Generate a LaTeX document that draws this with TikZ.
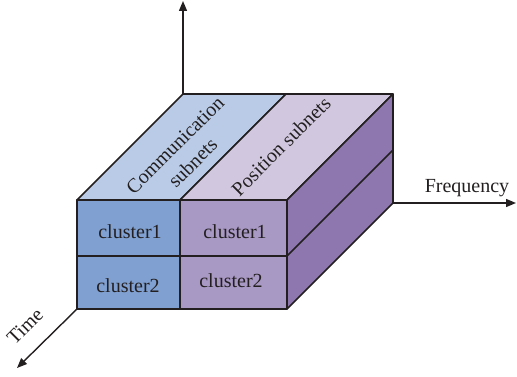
\documentclass[tikz,border=0pt]{standalone}
\usepackage{fontspec}
\setmainfont{Liberation Serif}
\usetikzlibrary{arrows.meta}
\definecolor{ink}{HTML}{231F20}
\definecolor{commfront}{HTML}{7FA0D0}
\definecolor{commtop}{HTML}{B9CBE6}
\definecolor{posfront}{HTML}{A898C4}
\definecolor{postop}{HTML}{D1C8DF}
\definecolor{posside}{HTML}{8E76AF}
\begin{document}
\begin{tikzpicture}[x=1pt,y=-1pt,
  face/.style={draw=ink, line width=1.6pt, line join=round},
  edge/.style={draw=ink, line width=1.6pt},
  axis/.style={draw=ink, line width=1.4pt, -{Triangle[length=10pt,width=8pt]}},
  lbl/.style={font=\fontsize{20}{25}\selectfont, text=ink, inner sep=0pt}]
\useasboundingbox (0,0) rectangle (517,377);
% box corners: front face, back top edge, back right edge
\coordinate (ftl) at (77,200);  \coordinate (ftm) at (180,200); \coordinate (ftr) at (287,200);
\coordinate (fml) at (77,256);  \coordinate (fmm) at (180,256); \coordinate (fmr) at (287,256);
\coordinate (fbl) at (77,309);  \coordinate (fbm) at (180,309); \coordinate (fbr) at (287,309);
\coordinate (btl) at (183,94);  \coordinate (btm) at (286,94);  \coordinate (btr) at (393,94);
\coordinate (bmr) at (393,150); \coordinate (bbr) at (393,203);
% axis ends
\coordinate (upend) at (183,1);
\coordinate (freqend) at (516,203);
\coordinate (timeend) at (17,368);

% axes
\draw[axis] (btl) -- (upend);
\draw[axis] (bbr) -- (freqend);
\draw[axis] (fbl) -- (timeend);

% top faces
\filldraw[face, fill=commtop] (ftl) -- (ftm) -- (btm) -- (btl) -- cycle;
\filldraw[face, fill=postop] (ftm) -- (ftr) -- (btr) -- (btm) -- cycle;
% right side face
\filldraw[face, fill=posside] (ftr) -- (fbr) -- (bbr) -- (btr) -- cycle;
\draw[edge] (fmr) -- (bmr);
% front faces
\filldraw[face, fill=commfront] (ftl) rectangle (fbm);
\filldraw[face, fill=posfront] (ftm) rectangle (fbr);
\draw[edge] (fml) -- (fmm);
\draw[edge] (fmm) -- (fmr);

% labels
\node[lbl] (c11) at (130,232) {cluster1};
\node[lbl] (c12) at (128,286) {cluster2};
\node[lbl] (c21) at (235,232) {cluster1};
\node[lbl] (c22) at (231,281) {cluster2};
\node[lbl, rotate=45, align=center] (comm) at (184,154) {Communication\\subnets};
\node[lbl, rotate=45] (pos) at (281,146) {Position subnets};
\node[lbl] (freq) at (467,188) {Frequency};
\node[lbl, rotate=45] (time) at (25,326) {Time};
\end{tikzpicture}
\end{document}
